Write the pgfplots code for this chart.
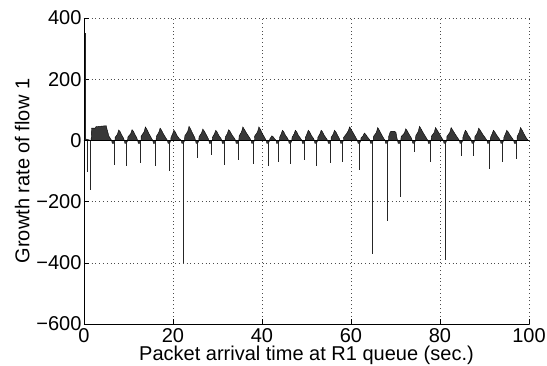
\documentclass[border=0pt]{standalone}
\usepackage{fontspec}
\setmainfont{Liberation Sans}
\usepackage{pgfplots}
\pgfplotsset{compat=1.18}
\begin{document}
\begin{tikzpicture}
\begin{axis}[
  scale only axis, width=445pt, height=306pt,
  xmin=0, xmax=100, ymin=-600, ymax=400,
  xtick={0,20,40,60,80,100},
  ytick={-600,-400,-200,0,200,400},
  yticklabels={−600,−400,−200,0,200,400},
  xticklabels={0,20,40,60,80,100},
  axis x line*=bottom, axis y line*=left,
  axis line style={black, line width=0.6pt, -},
  tick align=inside, major tick length=5pt,
  tick style={black, line width=0.6pt},
  grid=major,
  major grid style={black!70, line width=0.5pt, dash pattern=on 0.8pt off 3pt},
  tick label style={font=\fontsize{20}{23}\selectfont},
  label style={font=\fontsize{20}{23}\selectfont},
  xticklabel style={yshift=-1pt},
  yticklabel style={xshift=1pt},
  xlabel={Packet arrival time at R1 queue (sec.)},
  ylabel={Growth rate of flow 1},
  xlabel style={yshift=4pt},
  ylabel style={yshift=0pt},
  clip=true,
]
% positive mounds and small negative bases
\addplot[draw=black, line width=0.4pt, fill=black!78] coordinates {
(0,0) (0.3,5) (1.5,0) (1.6,0) (1.7,40) (2.5,40) (2.7,45) (5.0,48) (5.2,35) (5.6,14) (6.2,0) (6.35,-10) (6.7,-10)
(6.95,0) (7.0,10) (7.5,20) (7.8,34) (8.1,29) (8.5,17) (8.9,7) (9.05,0) (9.2,-10) (9.55,-10)
(9.8,0) (9.85,11) (10.5,22) (10.8,35) (11.1,30) (11.5,18) (11.9,7) (12.05,0) (12.2,-10) (12.55,-10)
(12.8,0) (12.85,14) (13.5,28) (13.8,44) (14.1,37) (14.6,22) (15.1,9) (15.45,0) (15.6,-10) (15.95,-10)
(16.2,0) (16.25,13) (16.8,26) (17.1,40) (17.4,34) (17.9,20) (18.4,8) (18.75,0) (18.9,-10) (19.25,-10)
(19.5,0) (19.55,10) (19.9,21) (20.2,33) (20.5,28) (20.9,16) (21.4,6) (21.85,0) (22.0,-10) (22.35,-10)
(22.6,0) (22.65,15) (23.3,29) (23.6,46) (23.9,39) (24.4,23) (24.9,9) (25.05,0) (25.2,-10) (25.55,-10)
(25.8,0) (25.85,12) (26.4,24) (26.7,37) (27.0,31) (27.5,18) (27.9,7) (28.05,0) (28.2,-10) (28.55,-10)
(28.8,0) (28.85,10) (29.3,21) (29.6,33) (29.9,28) (30.3,16) (30.8,6) (30.95,0) (31.1,-10) (31.45,-10)
(31.7,0) (31.75,11) (32.2,22) (32.5,35) (32.8,30) (33.3,17) (33.8,7) (34.05,0) (34.2,-10) (34.55,-10)
(34.8,0) (34.85,14) (35.4,28) (35.7,44) (36.0,37) (36.6,22) (37.2,9) (37.55,0) (37.7,-10) (38.05,-10)
(38.3,0) (38.35,14) (39.0,28) (39.3,44) (39.6,37) (40.1,22) (40.6,9) (40.95,0) (41.1,-10) (41.45,-10)
(41.7,0) (41.75,5) (42.0,10) (42.2,15) (42.5,12) (42.8,6) (43.15,0) (43.3,-10) (43.65,-10)
(43.9,0) (43.95,10) (44.3,21) (44.6,33) (44.9,28) (45.3,16) (45.8,6) (45.95,0) (46.1,-10) (46.45,-10)
(46.7,0) (46.75,10) (47.2,21) (47.5,33) (47.8,28) (48.2,16) (48.7,6) (48.95,0) (49.1,-10) (49.45,-10)
(49.7,0) (49.75,10) (50.1,21) (50.4,33) (50.7,28) (51.1,16) (51.6,6) (51.75,0) (51.9,-10) (52.25,-10)
(52.5,0) (52.55,10) (53.0,21) (53.3,33) (53.6,28) (54.0,16) (54.5,6) (54.75,0) (54.9,-10) (55.25,-10)
(55.5,0) (55.55,10) (56.0,21) (56.3,33) (56.6,28) (57.0,16) (57.4,6) (57.55,0) (57.7,-10) (58.05,-10)
(58.3,0) (58.35,10) (59.0,22) (59.4,32) (59.7,44) (60.0,37) (60.6,22) (61.1,9) (61.45,0) (61.6,-10) (61.95,-10)
(62.2,0) (62.25,8) (62.7,15) (63.0,24) (63.3,20) (63.7,11) (64.1,4) (64.25,0) (64.4,-10) (64.75,-10)
(65.0,0) (65.05,13) (65.7,26) (66.0,42) (66.3,35) (66.8,21) (67.3,8) (67.65,0) (67.8,-10) (68.15,-10)
(68.4,0) (68.45,12) (68.8,27) (69.0,30) (69.8,30) (70.1,26) (70.3,10) (70.45,0) (70.6,-10) (70.95,-10)
(71.2,0) (71.25,12) (72.0,24) (72.3,38) (72.6,32) (73.1,19) (73.6,7) (73.75,0) (73.9,-10) (74.25,-10)
(74.5,0) (74.55,15) (75.1,29) (75.4,46) (75.7,39) (76.3,23) (76.9,9) (77.25,0) (77.4,-10) (77.75,-10)
(78.0,0) (78.05,13) (78.7,26) (79.0,42) (79.3,35) (79.9,21) (80.4,8) (80.75,0) (80.9,-10) (81.25,-10)
(81.5,0) (81.55,13) (82.2,26) (82.5,42) (82.8,35) (83.4,21) (84.0,8) (84.35,0) (84.5,-10) (84.85,-10)
(85.1,0) (85.15,10) (85.4,21) (85.7,33) (86.0,28) (86.4,16) (86.9,6) (87.05,0) (87.2,-10) (87.55,-10)
(87.8,0) (87.85,12) (88.4,25) (88.7,40) (89.0,34) (89.6,20) (90.2,8) (90.55,0) (90.7,-10) (91.05,-10)
(91.3,0) (91.35,10) (91.7,21) (92.0,33) (92.3,28) (92.8,16) (93.3,6) (93.55,0) (93.7,-10) (94.05,-10)
(94.3,0) (94.35,10) (94.7,21) (95.0,33) (95.3,28) (95.8,16) (96.3,6) (96.55,0) (96.7,-10) (97.05,-10)
(97.3,0) (97.35,13) (97.8,26) (98.1,42) (98.4,35) (98.9,21) (99.4,8) (99.8,0)
};
% spikes
\addplot[ycomb, draw=black!85, line width=0.9pt] coordinates {
(0.25,350) (0.74,-104) (1.35,-161) (6.74,-82) (9.6,-85) (12.6,-74) (16.0,-83)
(19.3,-101) (22.4,-400) (25.6,-58) (28.6,-47) (31.5,-79) (34.6,-63) (38.1,-77)
(41.5,-85) (43.7,-70) (46.5,-77) (49.5,-65) (52.3,-85) (55.3,-74) (58.1,-72)
(62.0,-96) (64.8,-370) (68.2,-265) (71.0,-185) (74.3,-37) (77.8,-69) (81.3,-392)
(84.9,-52) (87.6,-52) (91.1,-93) (94.1,-69) (97.1,-60)
};
\addplot[draw=black, line width=0.5pt] coordinates {(0,0) (100,0)};
\end{axis}
\pgfresetboundingbox
\path ([shift={(-84pt,-41pt)}]current axis.south west) rectangle ([shift={(18pt,18pt)}]current axis.north east);
\end{tikzpicture}
\end{document}
